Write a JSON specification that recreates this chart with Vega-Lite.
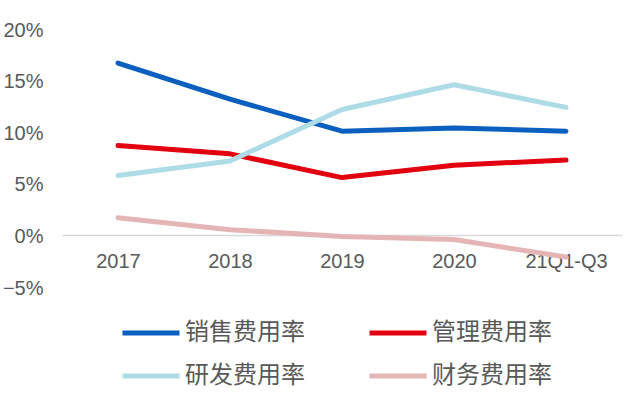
{
  "$schema": "https://vega.github.io/schema/vega-lite/v6.json",
  "description": "费用率",
  "autosize": {"type": "none"},
  "padding": {"left": 62, "top": 30, "right": 18, "bottom": 113},
  "width": 560,
  "height": 258,
  "background": "white",
  "config": {
    "view": {"stroke": null},
    "font": "Liberation Sans"
  },
  "data": {
    "values": [
      {"year": "2017", "series": "销售费用率", "value": 0.168},
      {"year": "2018", "series": "销售费用率", "value": 0.133},
      {"year": "2019", "series": "销售费用率", "value": 0.102},
      {"year": "2020", "series": "销售费用率", "value": 0.105},
      {"year": "21Q1-Q3", "series": "销售费用率", "value": 0.102},
      {"year": "2017", "series": "管理费用率", "value": 0.088},
      {"year": "2018", "series": "管理费用率", "value": 0.080},
      {"year": "2019", "series": "管理费用率", "value": 0.057},
      {"year": "2020", "series": "管理费用率", "value": 0.069},
      {"year": "21Q1-Q3", "series": "管理费用率", "value": 0.074},
      {"year": "2017", "series": "研发费用率", "value": 0.059},
      {"year": "2018", "series": "研发费用率", "value": 0.073},
      {"year": "2019", "series": "研发费用率", "value": 0.123},
      {"year": "2020", "series": "研发费用率", "value": 0.147},
      {"year": "21Q1-Q3", "series": "研发费用率", "value": 0.125},
      {"year": "2017", "series": "财务费用率", "value": 0.018},
      {"year": "2018", "series": "财务费用率", "value": 0.0065},
      {"year": "2019", "series": "财务费用率", "value": 0.0},
      {"year": "2020", "series": "财务费用率", "value": -0.003},
      {"year": "21Q1-Q3", "series": "财务费用率", "value": -0.02}
    ]
  },
  "mark": {"type": "line", "strokeWidth": 5, "strokeCap": "round", "strokeJoin": "round"},
  "encoding": {
    "x": {
      "field": "year",
      "type": "ordinal",
      "sort": null,
      "scale": {"type": "point", "padding": 0.5},
      "axis": {
        "title": null,
        "offset": -53,
        "domainColor": "#d9d9d9",
        "domainWidth": 1.5,
        "ticks": false,
        "labelAngle": 0,
        "labelFontSize": 20,
        "labelColor": "#595959",
        "labelPadding": 16
      }
    },
    "y": {
      "field": "value",
      "type": "quantitative",
      "scale": {"domain": [-0.05, 0.2], "nice": false, "zero": false},
      "axis": {
        "title": null,
        "values": [-0.05, 0, 0.05, 0.1, 0.15, 0.2],
        "format": ".0%",
        "grid": false,
        "domain": false,
        "ticks": false,
        "labelFontSize": 20,
        "labelColor": "#595959",
        "labelPadding": 19
      }
    },
    "color": {
      "field": "series",
      "type": "nominal",
      "sort": ["销售费用率", "管理费用率", "研发费用率", "财务费用率"],
      "scale": {
        "domain": ["销售费用率", "管理费用率", "研发费用率", "财务费用率"],
        "range": ["#0A5FBF", "#E3000F", "#ADDCE6", "#E5B5B6"]
      },
      "legend": {
        "title": null,
        "orient": "none",
        "direction": "horizontal",
        "legendX": 58,
        "legendY": 272,
        "columns": 2,
        "columnPadding": 54,
        "rowPadding": -1,
        "symbolType": "stroke",
        "symbolSize": 3249,
        "symbolStrokeWidth": 5,
        "labelFont": "Noto Sans CJK SC",
        "labelFontSize": 24,
        "labelColor": "#595959",
        "labelOffset": 3
      }
    }
  }
}
